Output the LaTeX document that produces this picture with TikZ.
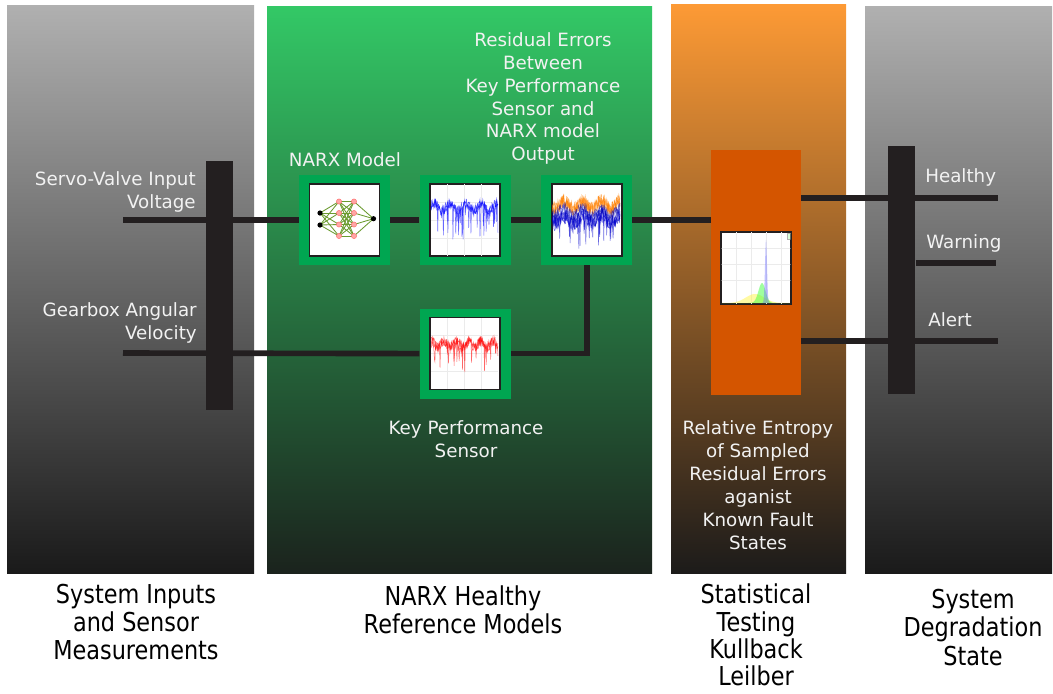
\documentclass[tikz,border=0pt]{standalone}
\usepackage{fontspec}
\setmainfont{DejaVu Sans}
\newfontfamily\captionfont[FakeStretch=0.86]{DejaVu Sans}
\usepackage{tikz}
\usetikzlibrary{positioning,calc}

\definecolor{wireblack}{HTML}{231F20}
\definecolor{tilegreen}{HTML}{00A651}
\definecolor{klorange}{HTML}{D45500}
\definecolor{labelwhite}{HTML}{F2F2F2}
\definecolor{graytop}{HTML}{B0B0B0}
\definecolor{graybottom}{HTML}{1A1A1A}
\definecolor{greentop}{HTML}{33C866}
\definecolor{greenbottom}{HTML}{1B231D}
\definecolor{orangetop}{HTML}{FD9A35}
\definecolor{orangebottom}{HTML}{1C1B1A}
\definecolor{synapse}{HTML}{6B9B2F}

\begin{document}
\begin{tikzpicture}[
  x=0.025cm,y=-0.025cm,
  wire/.style={draw=wireblack,line width=4pt},
  bus/.style={fill=wireblack,minimum width=0.69cm,inner sep=0},
  tile/.style={fill=tilegreen,minimum width=2.275cm,minimum height=2.25cm,inner sep=0},
  plotarea/.style={draw=wireblack,line width=1.2pt,fill=white,minimum width=1.75cm,minimum height=1.8cm,inner sep=0},
  gridline/.style={draw=black!8,line width=0.3pt},
  lbl/.style={text=labelwhite,font=\fontsize{13}{16.3}\selectfont,align=center,inner sep=0},
  caption/.style={text=black,font=\captionfont\fontsize{18.5}{20}\selectfont,align=center,inner sep=0},
  neuron/.style={circle,inner sep=0,minimum size=0.13cm}
]
  \pgfmathsetseed{42}
  \useasboundingbox (0,0) rectangle (1053,693);

  % background columns
  \shade[top color=graytop,bottom color=graybottom] (7,5) rectangle (254,573);
  \shade[top color=greentop,bottom color=greenbottom] (267,6) rectangle (652,573);
  \shade[top color=orangetop,bottom color=orangebottom] (671,4) rectangle (846,573);
  \shade[top color=graytop,bottom color=graybottom] (865,6) rectangle (1052,573);

  % model tiles
  \node[tile] (narx) at (344.5,220) {};
  \node[tile,right=0.725cm of narx] (pred) {};
  \node[tile,right=0.75cm of pred] (resid) {};
  \node[tile,below=1.075cm of pred] (kps) {};
  \node[plotarea] (narxplot) at (narx) {};
  \node[plotarea] (predplot) at (pred) {};
  \node[plotarea] (residplot) at (resid) {};
  \node[plotarea] (kpsplot) at (kps) {};

  % KL block
  \node[fill=klorange,minimum width=2.25cm,minimum height=6.125cm,inner sep=0] (kl) at (756,272.5) {};
  \node[plotarea] (klplot) at (756,268) {};

  % buses
  \node[bus,minimum height=6.225cm] (inbus) at (219.5,285.5) {};
  \node[bus,minimum height=6.2cm] (outbus) at (901.5,270) {};

  % wires
  \coordinate (voltage) at (123,220);
  \coordinate (gearbox) at (123,353);
  \coordinate (healthy) at (998,198);
  \coordinate (warning) at (996,263);
  \coordinate (alert) at (998,341);
  \draw[wire] (voltage) -- (narx.west);
  \draw[wire] (gearbox) -- (kps.west);
  \draw[wire] (narx.east) -- (pred.west);
  \draw[wire] (pred.east) -- (resid.west);
  \draw[wire] (resid.east) -- (resid.east -| kl.west);
  \draw[wire] (resid.south) |- (kps.east);
  \draw[wire] (kl.east |- healthy) -- (healthy);
  \draw[wire] (outbus.east |- warning) -- (warning);
  \draw[wire] (kl.east |- alert) -- (alert);

  % NARX network icon
  \foreach \i in {1,2} \coordinate (in\i) at (320,{201+12*\i});
  \foreach \j in {1,...,4} {
    \coordinate (ha\j) at (339,{190+11.5*\j});
    \coordinate (hb\j) at (354,{190+11.5*\j});
  }
  \coordinate (out) at (373.5,218.7);
  \foreach \i in {1,2} \foreach \j in {1,...,4} \draw[synapse,line width=0.6pt] (in\i) -- (ha\j);
  \foreach \i in {1,...,4} \foreach \j in {1,...,4} \draw[synapse,line width=0.6pt] (ha\i) -- (hb\j);
  \foreach \j in {1,...,4} \draw[synapse,line width=0.6pt] (hb\j) -- (out);
  \foreach \i in {1,2} \node[neuron,fill=black] at (in\i) {};
  \foreach \j in {1,...,4} {
    \node[neuron,fill=red!35,draw=red!60,line width=0.3pt] at (ha\j) {};
    \node[neuron,fill=red!35,draw=red!60,line width=0.3pt] at (hb\j) {};
  }
  \node[neuron,fill=black] at (out) {};

  % predicted output
  \begin{scope}
    \clip ($(predplot.south west)+(1.5,-1.5)$) rectangle ($(predplot.north east)+(-1.5,1.5)$);
    \foreach \gx in {447,464,481} \draw[gridline] (\gx,184) -- (\gx,256);
    \foreach \gy in {202,220,238} \draw[gridline] (431,\gy) -- (498,\gy);
    \foreach \k in {1,2,3}
      \draw[blue,line width=0.35pt,opacity=0.6] plot[domain=431:498,samples=120]
        (\x,{207+4*sin(\x*23)+5*rand+(rnd>0.9)*32*rnd});
  \end{scope}

  % residual errors
  \begin{scope}
    \clip ($(residplot.south west)+(1.5,-1.5)$) rectangle ($(residplot.north east)+(-1.5,1.5)$);
    \foreach \k in {1,...,4}
      \draw[blue!80!black,line width=0.35pt,opacity=0.6] plot[domain=551:620,samples=120]
        (\x,{219+4*sin(\x*19)+8*rand+(rnd>0.93)*25*rnd});
    \foreach \k in {1,...,4}
      \draw[orange,line width=0.35pt,opacity=0.6] plot[domain=551:620,samples=120]
        (\x,{205+4*sin(\x*19)+7*rand});
    \foreach \k in {1,2}
      \draw[blue!70!black,line width=0.35pt,opacity=0.5] plot[domain=551:620,samples=120]
        (\x,{212+4*sin(\x*19)+6*rand});
  \end{scope}

  % key performance sensor
  \begin{scope}
    \clip ($(kpsplot.south west)+(1.5,-1.5)$) rectangle ($(kpsplot.north east)+(-1.5,1.5)$);
    \foreach \gx in {447,464,481} \draw[gridline] (\gx,317) -- (\gx,389);
    \foreach \gy in {335,353,371} \draw[gridline] (431,\gy) -- (498,\gy);
    \foreach \k in {1,2,3}
      \draw[red,line width=0.35pt,opacity=0.6] plot[domain=431:498,samples=120]
        (\x,{344+3*sin(\x*29)+5*rand+(rnd>0.9)*28*rnd});
  \end{scope}

  % relative entropy distributions
  \begin{scope}
    \clip ($(klplot.south west)+(1.5,-1.5)$) rectangle ($(klplot.north east)+(-1.5,1.5)$);
    \foreach \gx in {736,751,766,781} \draw[gridline] (\gx,232) -- (\gx,304);
    \foreach \gy in {248,264,280} \draw[gridline] (721,\gy) -- (791,\gy);
    \fill[yellow!80!white,opacity=0.45] (722,303) -- plot[domain=722:790,samples=80]
      (\x,{303-9*exp(0-((\x-755)/13)*((\x-755)/13))}) -- (790,303) -- cycle;
    \fill[green!75!white,opacity=0.5] (722,303) -- plot[domain=722:790,samples=100]
      (\x,{303-20*exp(0-((\x-762)/5)*((\x-762)/5))}) -- (790,303) -- cycle;
    \fill[blue!60!white,opacity=0.4] (755,303) -- plot[domain=755:778,samples=120]
      (\x,{303-63*exp(0-((\x-766)/1.4)*((\x-766)/1.4))}) -- (778,303) -- cycle;
    \draw[black!30,fill=green!15,line width=0.3pt] (787,233) rectangle (792,239);
  \end{scope}

  % labels
  \node[lbl,anchor=east,align=right] (voltagelbl) at (196,191.5) {Servo-Valve Input\\Voltage};
  \node[lbl,anchor=east,align=right] (gearboxlbl) at (197,322.5) {Gearbox Angular\\Velocity};
  \node[lbl] (narxlbl) at (345,160) {NARX Model};
  \node[lbl] (residlbl) at (543,98.5) {Residual Errors\\Between\\Key Performance\\Sensor and\\NARX model\\Output};
  \node[lbl] (kpslbl) at (466,439.5) {Key Performance\\Sensor};
  \node[lbl] (kllbl) at (758,485) {Relative Entropy\\of Sampled\\Residual Errors\\aganist\\ Known Fault\\States};
  \node[lbl,anchor=west] (healthylbl) at (925,177) {Healthy};
  \node[lbl,anchor=west] (warninglbl) at (926,243) {Warning};
  \node[lbl,anchor=west] (alertlbl) at (928,320) {Alert};

  % column captions
  \node[caption] (inputscap) at (136,622) {System Inputs\\and Sensor\\Measurements};
  \node[caption] (narxcap) at (463,609.5) {NARX Healthy\\Reference Models};
  \node[caption,font=\captionfont\fontsize{18.5}{19.4}\selectfont] (klcap) at (756,635) {Statistical\\Testing\\Kullback\\Leilber};
  \node[caption] (statecap) at (973,627.5) {System\\Degradation\\State};
\end{tikzpicture}
\end{document}
